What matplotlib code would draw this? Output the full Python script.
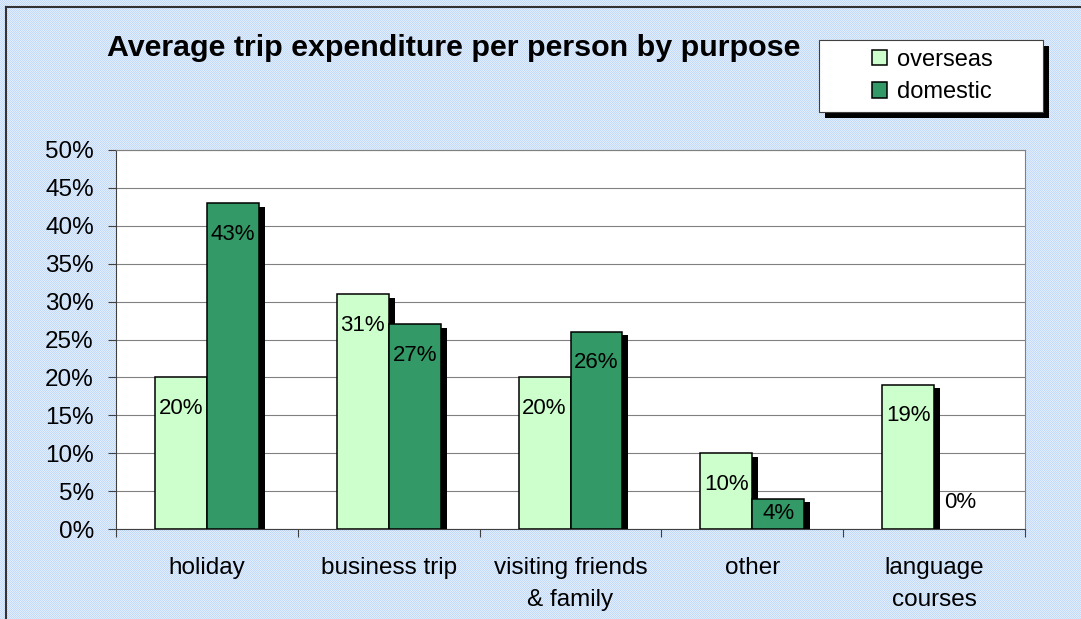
import numpy as np
from matplotlib import pyplot as plt
from matplotlib.patches import Rectangle
from matplotlib.lines import Line2D

plt.rcParams['font.family'] = ['Liberation Sans', 'DejaVu Sans']

categories = ["holiday", "business trip", "visiting friends\n& family", "other", "language\ncourses"]
overseas = [20, 31, 20, 10, 19]
domestic = [43, 27, 26, 4, 0]
yticks = [0, 5, 10, 15, 20, 25, 30, 35, 40, 45, 50]

W, H = 1081, 619
fig = plt.figure(figsize=(W / 100, H / 100), dpi=100)

# light blue dotted background
bg = np.zeros((H, W, 3))
c1 = np.array([0xc3, 0xdb, 0xf9]) / 255
c2 = np.array([0xe2, 0xed, 0xfc]) / 255
yy, xx = np.mgrid[0:H, 0:W]
mask = ((xx + yy) % 2 == 0)
bg[mask] = c1
bg[~mask] = c2
fig.figimage(bg, 0, 0, zorder=-1)

# outer chart border (left and top)
fig.add_artist(Line2D([6 / W, 6 / W], [0, 1 - 7 / H], transform=fig.transFigure, color='#333333', lw=1.5))
fig.add_artist(Line2D([6 / W, 1], [1 - 7 / H, 1 - 7 / H], transform=fig.transFigure, color='#333333', lw=1.5))

left, right, top, bottom = 116, 1025, 150, 529
ax = fig.add_axes([left / W, (H - bottom) / H, (right - left) / W, (bottom - top) / H])
ax.set_facecolor('white')

x = np.arange(len(categories))
bw = 0.286
px_x = (right - left) / len(categories)   # pixels per category
px_y = (bottom - top) / 50.0              # pixels per percent
sdx = 6 / px_x
sdy = 3.5 / px_y

# shadows
for xi, v in zip(x - bw / 2, overseas):
    if v > 0:
        ax.bar(xi + sdx, v - sdy, bw, color='black', zorder=2, linewidth=0)
for xi, v in zip(x + bw / 2, domestic):
    if v > 0:
        ax.bar(xi + sdx, v - sdy, bw, color='black', zorder=2, linewidth=0)

b1 = ax.bar(x - bw / 2, overseas, bw, color='#ccffcc', edgecolor='black',
            linewidth=[1.1 if v > 0 else 0 for v in overseas], zorder=3, label='overseas')
b2 = ax.bar(x + bw / 2, domestic, bw, color='#339966', edgecolor='black',
            linewidth=[1.1 if v > 0 else 0 for v in domestic], zorder=4, label='domestic')

# data labels
for xs, vals in ((x - bw / 2, overseas), (x + bw / 2, domestic)):
    for xi, v in zip(xs, vals):
        hpx = v * px_y
        if v == 0:
            off = 26
        elif hpx < 60:
            off = -hpx / 2
        else:
            off = -31
        ax.annotate(f"{v}%", (xi, v), xytext=(0, off * 0.72), textcoords='offset points',
                    ha='center', va='center', fontsize=16, zorder=6)

ax.set_xlim(-0.5, len(categories) - 0.5)
ax.set_ylim(0, 50)
ax.set_yticks(yticks)
ax.set_yticklabels([f"{t}%" for t in yticks])
ax.yaxis.grid(True, color='#808080', linewidth=0.8)
ax.set_axisbelow(True)

ax.set_xticks(x)
ax.set_xticklabels(categories, linespacing=1.6)
ax.set_xticks(np.arange(len(categories) + 1) - 0.5, minor=True)
ax.tick_params(axis='x', which='major', length=0, pad=20, labelsize=17.5)
ax.tick_params(axis='x', which='minor', length=6, width=0.8, color='#404040')
ax.tick_params(axis='y', length=6, width=0.8, color='#404040', pad=10, labelsize=17.5)

for s in ('top', 'right'):
    ax.spines[s].set_color('#808080')
    ax.spines[s].set_linewidth(0.8)
for s in ('left', 'bottom'):
    ax.spines[s].set_color('#404040')
    ax.spines[s].set_linewidth(0.8)

# title
fig.text(107 / W, 1 - 48 / H, "Average trip expenditure per person by purpose",
         fontsize=21.9, fontweight='bold', ha='left', va='center')

# legend box with shadow
lx0, ly0, lx1, ly1 = 819, 40, 1043, 112
fig.add_artist(Rectangle(((lx0 + 6) / W, 1 - (ly1 + 6) / H), (lx1 - lx0) / W, (ly1 - ly0) / H,
                         transform=fig.transFigure, facecolor='black', edgecolor='none', zorder=3))
fig.add_artist(Rectangle((lx0 / W, 1 - ly1 / H), (lx1 - lx0) / W, (ly1 - ly0) / H,
                         transform=fig.transFigure, facecolor='white', edgecolor='#404040',
                         linewidth=0.8, zorder=3.5))
fig.legend(handles=[b1, b2], loc='center',
           bbox_to_anchor=((lx0 + lx1) / 2 / W + 1 / W, 1 - (ly0 + ly1) / 2 / H),
           frameon=False, fontsize=17, handlelength=0.65, handleheight=0.65,
           handletextpad=0.4, labelspacing=0.45)

plt.savefig("out.png", dpi=100)
